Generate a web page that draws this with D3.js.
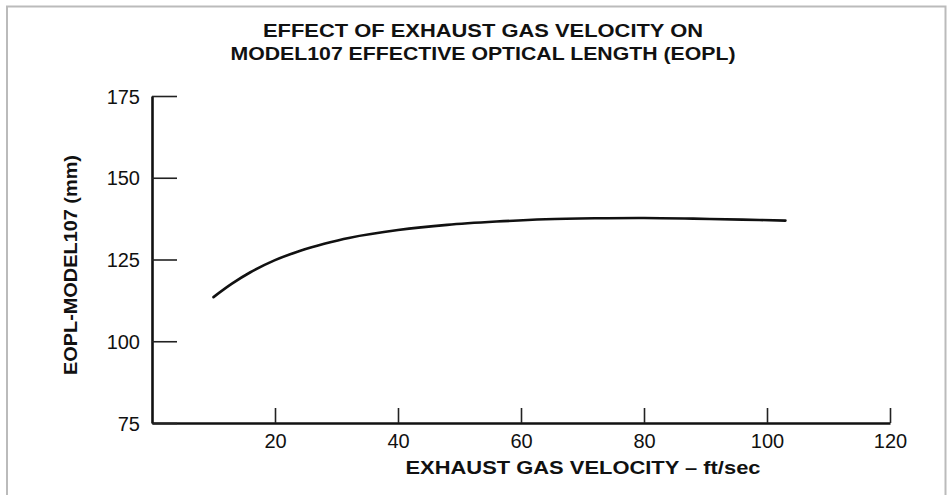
<!DOCTYPE html>
<html>
<head>
<meta charset="utf-8">
<script src="https://cdn.jsdelivr.net/npm/d3@7"></script>
<style>
  body { margin: 0; background: #fff; }
  text { font-family: "Liberation Sans", Arial, sans-serif; fill: #111; }
  .title { font-weight: bold; font-size: 19px; }
  .label { font-weight: bold; font-size: 19px; }
  .tick text { font-size: 20px; }
</style>
</head>
<body>
<script>
// values
var velocity = [10, 13, 16, 20, 24, 28, 32, 40, 48, 56, 64, 72, 80, 88, 96, 103];
var eopl = [113.5, 117.6, 121.1, 124.8, 127.6, 129.8, 131.6, 134.0, 135.6, 136.6, 137.3, 137.6, 137.7, 137.5, 137.2, 136.9];
var xTicks = [20, 40, 60, 80, 100, 120];
var yTicks = [75, 100, 125, 150, 175];
var titleLines = ["EFFECT OF EXHAUST GAS VELOCITY ON", "MODEL107 EFFECTIVE OPTICAL LENGTH (EOPL)"];

function drawChart() {
  var width = 948;
  var height = 495;

  var svg = d3.select("body")
    .append("svg")
    .attr("width", width)
    .attr("height", height);

  // light frame round the figure
  svg.append("path")
    .attr("d", "M7,500 L7,6.5 L945.5,6.5 L945.5,500")
    .attr("fill", "none")
    .attr("stroke", "#bbb")
    .attr("stroke-width", 2);

  var x = d3.scaleLinear().domain([0, 120]).range([152, 890]);
  var y = d3.scaleLinear().domain([75, 175]).range([423, 96]);

  var xAxis = svg.append("g")
    .attr("transform", "translate(0," + y(75) + ")")
    .call(d3.axisBottom(x).tickValues(xTicks).tickSizeInner(-15).tickSizeOuter(0).tickPadding(11));

  var yAxis = svg.append("g")
    .attr("transform", "translate(" + x(0) + ",0)")
    .call(d3.axisLeft(y).tickValues(yTicks).tickSizeInner(-25).tickSizeOuter(0).tickPadding(12));

  [xAxis, yAxis].forEach(function (g) {
    g.select(".domain").attr("stroke", "#111").attr("stroke-width", 2.6);
    g.selectAll(".tick line").attr("stroke", "#222").attr("stroke-width", 1.6);
    g.selectAll(".tick text").attr("fill", "#111").style("font-family", "Liberation Sans, Arial, sans-serif");
  });
  yAxis.selectAll(".tick text").attr("dy", "0.36em");

  var points = velocity.map(function (v, i) { return { x: v, y: eopl[i] }; });

  var line = d3.line()
    .x(function (d) { return x(d.x); })
    .y(function (d) { return y(d.y); })
    .curve(d3.curveCatmullRom.alpha(0.5));

  svg.append("path")
    .datum(points)
    .attr("d", line)
    .attr("fill", "none")
    .attr("stroke", "#111")
    .attr("stroke-width", 2.6)
    .attr("stroke-linecap", "round");

  var titleWidths = [440, 505];
  svg.append("g")
    .selectAll("text")
    .data(titleLines)
    .enter()
    .append("text")
      .attr("class", "title")
      .attr("x", 483)
      .attr("y", function (d, i) { return 37 + i * 23; })
      .attr("text-anchor", "middle")
      .attr("textLength", function (d, i) { return titleWidths[i]; })
      .attr("lengthAdjust", "spacingAndGlyphs")
      .text(function (d) { return d; });

  svg.append("text")
    .attr("class", "label")
    .attr("x", 583)
    .attr("y", 474)
    .attr("text-anchor", "middle")
    .attr("textLength", 355)
    .attr("lengthAdjust", "spacingAndGlyphs")
    .text("EXHAUST GAS VELOCITY \u2013 ft/sec");

  svg.append("text")
    .attr("class", "label")
    .attr("transform", "translate(77,265) rotate(-90)")
    .attr("text-anchor", "middle")
    .attr("textLength", 220)
    .attr("lengthAdjust", "spacingAndGlyphs")
    .text("EOPL-MODEL107 (mm)");
}

drawChart();
</script>
</body>
</html>
